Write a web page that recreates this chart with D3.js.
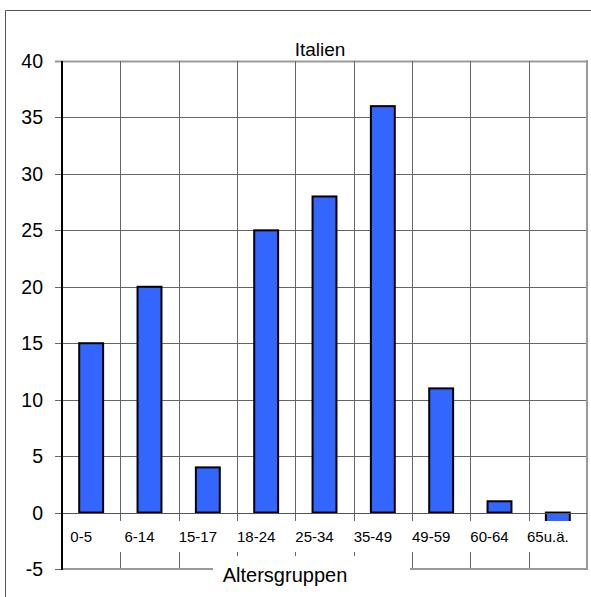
<!DOCTYPE html>
<html>
<head>
<meta charset="utf-8">
<script src="https://cdn.jsdelivr.net/npm/d3@7"></script>
<style>
  body { margin: 0; background: #fff; }
  text { font-family: "Liberation Sans", Arial, sans-serif; fill: #000; }
</style>
</head>
<body>
<div id="chart"></div>
<script>
var categories = ["0-5", "6-14", "15-17", "18-24", "25-34", "35-49", "49-59", "60-64", "65u.ä."];
var values = [15, 20, 4, 25, 28, 36, 11, 1, -1];
var yTicks = [-5, 0, 5, 10, 15, 20, 25, 30, 35, 40];

var W = 591, H = 597;
var plot = { left: 62, top: 61, right: 587, bottom: 569 };

var svg = d3.select("#chart").append("svg")
  .attr("width", W).attr("height", H);

// outer frame (runs off the right and bottom)
svg.append("path")
  .attr("d", "M5.5," + (H + 5) + " V10.5 H" + (W + 5))
  .attr("fill", "none").attr("stroke", "#555").attr("stroke-width", 1);

var x = d3.scaleBand().domain(categories).range([plot.left, plot.right]).paddingInner(0).paddingOuter(0);
var y = d3.scaleLinear().domain([-5, 40]).range([plot.bottom, plot.top]);

// horizontal grid
svg.append("g").selectAll("line").data(yTicks).enter().append("line")
  .attr("x1", plot.left - 7).attr("x2", plot.right)
  .attr("y1", d => Math.round(y(d)) + 0.5).attr("y2", d => Math.round(y(d)) + 0.5)
  .attr("stroke", d => d == 40 ? "#999" : "#666")
  .attr("stroke-width", d => d == 40 ? 2 : 1);

// vertical grid at category boundaries
var bounds = categories.slice(1).map(c => x(c));
svg.append("g").selectAll("line").data(bounds).enter().append("line")
  .attr("x1", d => Math.round(d) + 0.5).attr("x2", d => Math.round(d) + 0.5)
  .attr("y1", plot.top).attr("y2", plot.bottom)
  .attr("stroke", "#666").attr("stroke-width", 1);

// right border
svg.append("line")
  .attr("x1", plot.right).attr("x2", plot.right)
  .attr("y1", plot.top - 1).attr("y2", plot.bottom + 1)
  .attr("stroke", "#999").attr("stroke-width", 2);

// bars
var bw = x.bandwidth() * 0.41;
svg.append("g").selectAll("rect").data(values).enter().append("rect")
  .attr("x", (d, i) => x(categories[i]) + (x.bandwidth() - bw) / 2)
  .attr("y", d => y(Math.max(0, d)))
  .attr("width", bw)
  .attr("height", d => Math.abs(y(d) - y(0)))
  .attr("fill", "#3366ff")
  .attr("stroke", "#000").attr("stroke-width", 2);

// zero line over bars
svg.append("line")
  .attr("x1", plot.left).attr("x2", plot.right)
  .attr("y1", Math.round(y(0)) + 0.5).attr("y2", Math.round(y(0)) + 0.5)
  .attr("stroke", "#555").attr("stroke-width", 1);

// white box behind category labels
svg.append("rect")
  .attr("x", plot.left + 1).attr("y", 521)
  .attr("width", plot.right - plot.left - 2).attr("height", 31)
  .attr("fill", "#fff");

// bottom axis line at -5
svg.append("line")
  .attr("x1", plot.left).attr("x2", plot.right + 1)
  .attr("y1", y(-5)).attr("y2", y(-5))
  .attr("stroke", "#999").attr("stroke-width", 2);

// left axis
svg.append("line")
  .attr("x1", plot.left).attr("x2", plot.left)
  .attr("y1", plot.top).attr("y2", plot.bottom + 1)
  .attr("stroke", "#000").attr("stroke-width", 2);

// y tick labels
svg.append("g").selectAll("text").data(yTicks).enter().append("text")
  .attr("x", 43).attr("y", d => y(d))
  .attr("dy", "0.36em")
  .attr("text-anchor", "end")
  .style("font-size", "19.5px")
  .text(d => d);

// category labels
svg.append("g").selectAll("text").data(categories).enter().append("text")
  .attr("x", d => x(d) + x.bandwidth() / 2 - 10)
  .attr("y", 542)
  .attr("text-anchor", "middle")
  .style("font-size", "15px")
  .text(d => d);

// title
svg.append("text")
  .attr("x", 320).attr("y", 56)
  .attr("text-anchor", "middle")
  .style("font-size", "19px")
  .text("Italien");

// axis title with white box
svg.append("rect")
  .attr("x", 213).attr("y", 556).attr("width", 197).attr("height", 41)
  .attr("fill", "#fff");
svg.append("text")
  .attr("x", 285).attr("y", 582)
  .attr("text-anchor", "middle")
  .style("font-size", "20px")
  .text("Altersgruppen");
</script>
</body>
</html>
